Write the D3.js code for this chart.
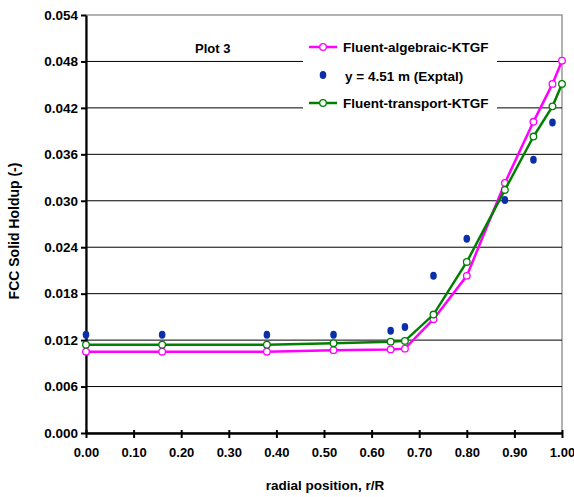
<!DOCTYPE html>
<html>
<head>
<meta charset="utf-8">
<script src="https://cdn.jsdelivr.net/npm/d3@7"></script>
<style>
  body { margin: 0; background: #fff; }
  svg text { font-family: "Liberation Sans", Arial, sans-serif; font-weight: bold; fill: #000; }
</style>
</head>
<body>
<svg id="chart" width="574" height="497"></svg>
<script>
// radial positions and solids holdup profiles
const rModel = [0, 0.16, 0.38, 0.52, 0.64, 0.67, 0.73, 0.80, 0.88, 0.94, 0.98, 1.00];
const algebraic = [0.0105, 0.0105, 0.0105, 0.0107, 0.0108, 0.0109, 0.0147, 0.0203, 0.0323, 0.0402, 0.0451, 0.0481];
const transport = [0.0114, 0.0114, 0.0114, 0.0116, 0.0118, 0.0119, 0.0153, 0.0221, 0.0314, 0.0383, 0.0422, 0.0451];
const rExp = [0, 0.16, 0.38, 0.52, 0.64, 0.67, 0.73, 0.80, 0.88, 0.94, 0.98];
const exptal = [0.0127, 0.0127, 0.0127, 0.0127, 0.0132, 0.0137, 0.0203, 0.0251, 0.0301, 0.0353, 0.0401];
const xTicks = [0, 0.1, 0.2, 0.3, 0.4, 0.5, 0.6, 0.7, 0.8, 0.9, 1.0];
const yTicks = [0, 0.006, 0.012, 0.018, 0.024, 0.030, 0.036, 0.042, 0.048, 0.054];
const seriesNames = ["Fluent-algebraic-KTGF", "y = 4.51 m (Exptal)", "Fluent-transport-KTGF"];

const svg = d3.select("#chart");
const pLeft = 86, pRight = 562, pTop = 15, pBottom = 433;
const x = d3.scaleLinear().domain([0, 1]).range([pLeft, pRight]);
const y = d3.scaleLinear().domain([0, 0.054]).range([pBottom, pTop]);

const MAG = "#ff00ff", GRN = "#008000", BLU = "#0a2fa8";

// plot frame (grey) and horizontal gridlines
svg.append("rect").attr("x", pLeft).attr("y", pTop).attr("width", pRight - pLeft).attr("height", pBottom - pTop)
  .attr("fill", "none").attr("stroke", "#999").attr("stroke-width", 1.5);
svg.append("g").selectAll("line").data(yTicks.slice(1, -1)).join("line")
  .attr("x1", pLeft).attr("x2", pRight).attr("y1", d => y(d)).attr("y2", d => y(d))
  .attr("stroke", "#000").attr("stroke-width", 1);

// legend panel (white box covering gridlines)
svg.append("rect").attr("x", 303).attr("y", 36).attr("width", 194).attr("height", 80).attr("fill", "#fff");

// axes
const yAxis = d3.axisLeft(y).tickValues(yTicks).tickFormat(d3.format(".3f")).tickSize(5).tickSizeOuter(0);
const gy = svg.append("g").attr("transform", `translate(${pLeft},0)`).call(yAxis);
gy.select(".domain").attr("stroke", "#000").attr("stroke-width", 2.2);
gy.selectAll(".tick line").attr("stroke", "#000").attr("stroke-width", 2);
gy.selectAll(".tick text").attr("x", -8).attr("font-size", 13.5).attr("font-family", "Liberation Sans, Arial").attr("font-weight", "bold");

const xAxis = d3.axisBottom(x).tickValues(xTicks).tickFormat(d3.format(".2f")).tickSize(5).tickSizeOuter(0);
const gx = svg.append("g").attr("transform", `translate(0,${pBottom})`).call(xAxis);
gx.select(".domain").attr("stroke", "#000").attr("stroke-width", 2.5);
gx.selectAll(".tick line").attr("stroke", "#000").attr("stroke-width", 2).attr("y1", -3);
gx.selectAll(".tick text").attr("y", 15).attr("font-size", 13).attr("font-family", "Liberation Sans, Arial").attr("font-weight", "bold");

// axis titles
svg.append("text").attr("x", 325).attr("y", 490).attr("text-anchor", "middle")
  .attr("font-size", 13.5).text("radial position, r/R");
svg.append("text").attr("transform", `translate(19,231) rotate(-90)`)
  .attr("text-anchor", "middle").attr("font-size", 14).text("FCC Solid Holdup (-)");

svg.append("text").attr("x", 195).attr("y", 53).attr("font-size", 13).text("Plot 3");

// model curves
const line = d3.line().x(d => x(d[0])).y(d => y(d[1]));
function drawSeries(xs, ys, color) {
  const pts = xs.map((r, i) => [r, ys[i]]);
  svg.append("path").datum(pts).attr("d", line).attr("fill", "none")
    .attr("stroke", color).attr("stroke-width", 2.5);
  svg.append("g").selectAll("circle").data(pts).join("circle")
    .attr("cx", d => x(d[0])).attr("cy", d => y(d[1])).attr("r", 3.3)
    .attr("fill", "#fff").attr("stroke", color).attr("stroke-width", 1.3);
}
drawSeries(rModel, algebraic, MAG);
drawSeries(rModel, transport, GRN);

// experimental points
svg.append("g").selectAll("ellipse").data(rExp.map((r, i) => [r, exptal[i]])).join("ellipse")
  .attr("cx", d => x(d[0])).attr("cy", d => y(d[1])).attr("rx", 3.3).attr("ry", 4)
  .attr("fill", BLU);

// legend entries
const leg = svg.append("g");
const rows = [
  { name: seriesNames[0], color: MAG, type: "line", yy: 47 },
  { name: seriesNames[1], color: BLU, type: "dot", yy: 76 },
  { name: seriesNames[2], color: GRN, type: "line", yy: 103 }
];
rows.forEach(rw => {
  if (rw.type === "line") {
    leg.append("line").attr("x1", 309).attr("x2", 337).attr("y1", rw.yy).attr("y2", rw.yy)
      .attr("stroke", rw.color).attr("stroke-width", 2.5);
    leg.append("circle").attr("cx", 323).attr("cy", rw.yy).attr("r", 3.3)
      .attr("fill", "#fff").attr("stroke", rw.color).attr("stroke-width", 1.3);
    leg.append("text").attr("x", 343).attr("y", rw.yy + 5).attr("font-size", 13.5).text(rw.name);
  } else {
    leg.append("ellipse").attr("cx", 323).attr("cy", rw.yy - 1).attr("rx", 3.3).attr("ry", 4).attr("fill", rw.color);
    leg.append("text").attr("x", 345).attr("y", rw.yy + 5).attr("font-size", 13.5).text(rw.name);
  }
});
</script>
</body>
</html>
